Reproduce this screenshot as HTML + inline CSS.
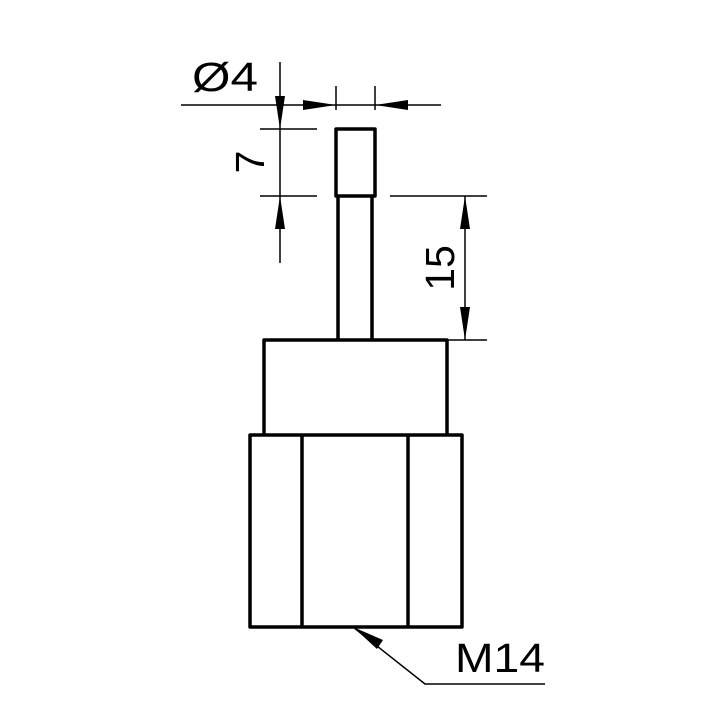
<!DOCTYPE html>
<html><head><style>html,body{margin:0;padding:0;background:#fff}</style></head>
<body>
<svg width="705" height="705" viewBox="0 0 705 705" xmlns="http://www.w3.org/2000/svg">
<rect width="705" height="705" fill="#fff"/>
<g fill="none" stroke="#000" stroke-width="3.5" stroke-linejoin="round">
<rect x="336" y="129" width="39" height="67"/>
<line x1="338" y1="196" x2="338" y2="340"/>
<line x1="372" y1="196" x2="372" y2="340"/>
<polyline points="264,435 264,340 447,340 447,435"/>
<rect x="250" y="435" width="212" height="192"/>
<line x1="302" y1="435" x2="302" y2="627"/>
<line x1="408" y1="435" x2="408" y2="627"/>
</g>
<g stroke="#000" stroke-width="1.5" fill="none">
<line x1="181" y1="105" x2="441" y2="105"/>
<line x1="336" y1="86" x2="336" y2="110"/>
<line x1="375" y1="86" x2="375" y2="110"/>
<line x1="280" y1="62" x2="280" y2="263"/>
<line x1="260" y1="129" x2="317" y2="129"/>
<line x1="260" y1="196" x2="317" y2="196"/>
<line x1="465" y1="196" x2="465" y2="340"/>
<line x1="390" y1="196" x2="487" y2="196"/>
<line x1="447" y1="340" x2="487" y2="340"/>
<polyline points="353,627 425,684 545,684"/>
</g>
<g fill="#000">
<polygon points="336,105 303,100 303,110"/>
<polygon points="375,105 408,100 408,110"/>
<polygon points="280,129 275,96 285,96"/>
<polygon points="280,196 275,229 285,229"/>
<polygon points="465,196 460,229 470,229"/>
<polygon points="465,340 460,307 470,307"/>
<polygon points="353,627 383,640 377,649"/>
</g>
<g font-family="Liberation Sans, sans-serif" font-size="41" fill="#000">
<text x="192" y="91" textLength="66" lengthAdjust="spacingAndGlyphs">Ø4</text>
<text x="455" y="672" textLength="90" lengthAdjust="spacingAndGlyphs">M14</text>
<text transform="translate(264,162) rotate(-90)" text-anchor="middle">7</text>
<text transform="translate(454,268) rotate(-90)" text-anchor="middle">15</text>
</g>
</svg>
</body></html>
